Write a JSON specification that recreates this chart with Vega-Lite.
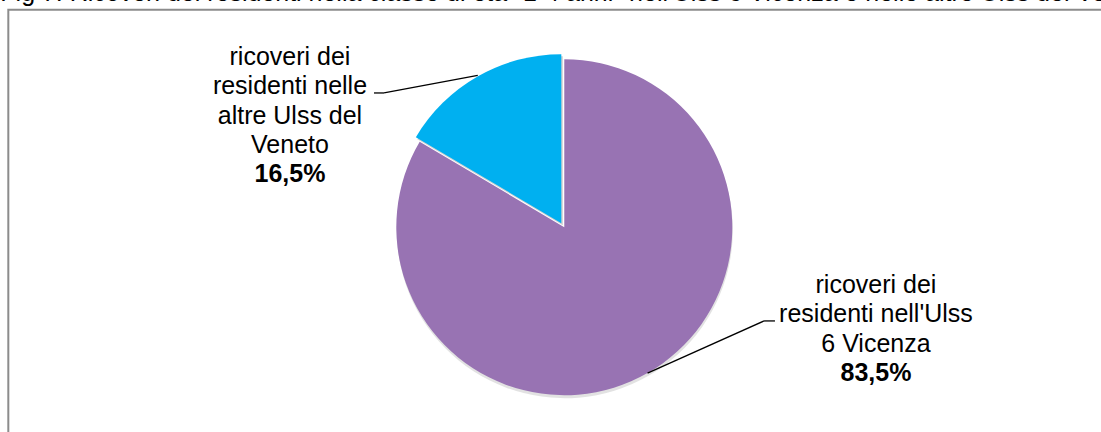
{
  "$schema": "https://vega.github.io/schema/vega-lite/v6.json",
  "width": 1112,
  "height": 435,
  "autosize": "none",
  "padding": {"left": 8.3, "top": 9.7, "right": 0, "bottom": 0},
  "background": "white",
  "title": {
    "text": "Fig 7. Ricoveri dei residenti nella classe di età \"1-4 anni\" nell'Ulss 6 Vicenza e nelle altre Ulss del Veneto",
    "anchor": "start",
    "frame": "group",
    "dx": -8,
    "offset": -16,
    "baseline": "alphabetic",
    "fontSize": 25,
    "fontWeight": "normal",
    "font": "Liberation Sans",
    "color": "#000000"
  },
  "config": {
    "view": {"stroke": "#8c8c8c", "strokeWidth": 2},
    "font": "Liberation Sans"
  },
  "data": {
    "values": [
      {"voce": "ricoveri dei\nresidenti nell'Ulss\n6 Vicenza", "quota": 0.835},
      {"voce": "ricoveri dei\nresidenti nelle\naltre Ulss del\nVeneto", "quota": 0.165}
    ]
  },
  "transform": [
    {"stack": "quota", "groupby": [], "sort": [{"field": "quota", "order": "descending"}], "as": ["s0", "s1"]},
    {"calculate": "replace(format(datum.quota, '.1%'), '.', ',')", "as": "percentuale"},
    {"calculate": "PI * (datum.s0 + datum.s1)", "as": "mezzo"},
    {"calculate": "sin(datum.mezzo) < 0 ? -1 : 1", "as": "lato"},
    {"calculate": "datum.lato < 0 ? 1.04 : 1.0", "as": "rr"},
    {"calculate": "datum.rr * sin(datum.mezzo)", "as": "sx"},
    {"calculate": "datum.rr * cos(datum.mezzo)", "as": "sy"},
    {"calculate": "datum.lato < 0 ? -1.073 : 1.189", "as": "bx"},
    {"calculate": "datum.lato < 0 ? 0.799 : -0.558", "as": "by"},
    {"calculate": "datum.lato < 0 ? -1.133 : 1.254", "as": "ex"},
    {"calculate": "datum.lato < 0 ? -1.633 : 1.855", "as": "tx"},
    {"calculate": "datum.lato < 0 ? 1.013 : -0.344", "as": "ty"},
    {"calculate": "datum.lato < 0 ? 0.317 : -0.868", "as": "py"}
  ],
  "layer": [
    {
      "transform": [{"filter": "datum.quota > 0.5"}],
      "mark": {"type": "arc", "outerRadius": 168, "yOffset": 3, "xOffset": 0.5, "fill": "#cfcfcf", "opacity": 0.6},
      "encoding": {
        "theta": {"field": "s0", "type": "quantitative", "stack": null, "scale": {"domain": [0, 1], "range": [0, 6.283185]}},
        "theta2": {"field": "s1"}
      }
    },
    {
      "transform": [{"filter": "datum.quota > 0.5"}],
      "mark": {"type": "arc", "outerRadius": 168},
      "encoding": {
        "theta": {"field": "s0", "type": "quantitative", "stack": null, "scale": {"domain": [0, 1], "range": [0, 6.283185]}},
        "theta2": {"field": "s1"},
        "color": {"field": "voce", "type": "nominal", "legend": null,
          "scale": {"domain": ["ricoveri dei\nresidenti nell'Ulss\n6 Vicenza", "ricoveri dei\nresidenti nelle\naltre Ulss del\nVeneto"], "range": ["#9873b3", "#00b0f0"]}}
      }
    },
    {
      "transform": [{"filter": "datum.quota < 0.5"}],
      "mark": {"type": "arc", "outerRadius": 169, "xOffset": -1.5, "yOffset": -2, "fill": "#bdbdbd", "opacity": 0.7},
      "encoding": {
        "theta": {"field": "s0", "type": "quantitative", "stack": null, "scale": {"domain": [0, 1], "range": [0, 6.283185]}},
        "theta2": {"field": "s1"}
      }
    },
    {
      "transform": [{"filter": "datum.quota < 0.5"}],
      "mark": {"type": "arc", "outerRadius": 169, "xOffset": -3, "yOffset": -4},
      "encoding": {
        "theta": {"field": "s0", "type": "quantitative", "stack": null, "scale": {"domain": [0, 1], "range": [0, 6.283185]}},
        "theta2": {"field": "s1"},
        "color": {"field": "voce", "type": "nominal", "legend": null}
      }
    },
    {
      "mark": {"type": "rule", "color": "#000000", "strokeWidth": 1.3},
      "encoding": {
        "x": {"field": "sx", "type": "quantitative", "axis": null, "scale": {"domain": [-3.3095, 3.3095], "nice": false, "zero": false}},
        "y": {"field": "sy", "type": "quantitative", "axis": null, "scale": {"domain": [-1.29464, 1.29464], "nice": false, "zero": false}},
        "x2": {"field": "bx"},
        "y2": {"field": "by"}
      }
    },
    {
      "mark": {"type": "rule", "color": "#000000", "strokeWidth": 1.3},
      "encoding": {
        "x": {"field": "bx", "type": "quantitative"},
        "x2": {"field": "ex"},
        "y": {"field": "by", "type": "quantitative"}
      }
    },
    {
      "mark": {"type": "text", "align": "center", "baseline": "middle", "fontSize": 25, "lineHeight": 29.3, "lineBreak": "\n", "color": "#000000", "font": "Liberation Sans"},
      "encoding": {
        "x": {"field": "tx", "type": "quantitative"},
        "y": {"field": "ty", "type": "quantitative"},
        "text": {"field": "voce", "type": "nominal"}
      }
    },
    {
      "mark": {"type": "text", "align": "center", "baseline": "middle", "fontSize": 25, "fontWeight": "bold", "color": "#000000", "font": "Liberation Sans"},
      "encoding": {
        "x": {"field": "tx", "type": "quantitative"},
        "y": {"field": "py", "type": "quantitative"},
        "text": {"field": "percentuale", "type": "nominal"}
      }
    }
  ]
}
